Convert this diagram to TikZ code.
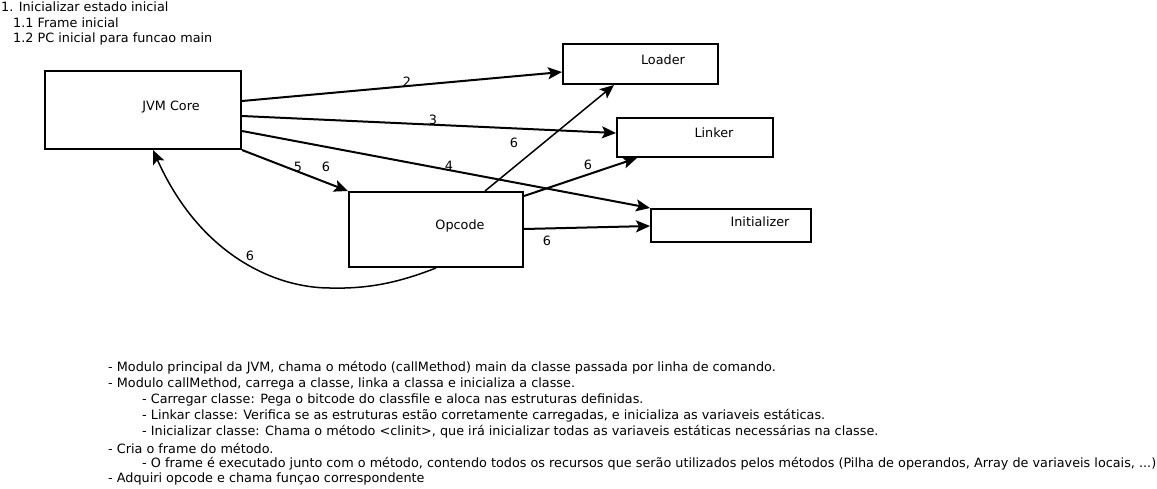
\documentclass[tikz,border=0pt]{standalone}
\usepackage{fontspec}
\setmainfont{DejaVu Sans}
\usetikzlibrary{arrows.meta}
\begin{document}
\begin{tikzpicture}[x=1pt,y=-1pt,
  font=\fontsize{12.8}{16}\selectfont,
  box/.style={draw,line width=2pt,inner sep=0pt},
  lbl/.style={inner sep=0pt},
  txt/.style={inner sep=0pt,anchor=west},
  conn/.style={line width=2pt,-{Stealth[length=14pt,width=12pt,inset=3pt]}},
  thinconn/.style={conn,line width=1.5pt}]
\useasboundingbox (0,0) rectangle (1157,488);
\fill[white] (0,0) rectangle (1157,488);

% boxes
\node[box,minimum width=196pt,minimum height=78pt] (jvm) at (143,110) {};
\node[box,minimum width=155pt,minimum height=40pt] (loader) at (640.5,64) {};
\node[box,minimum width=156pt,minimum height=39pt] (linker) at (695,137.5) {};
\node[box,minimum width=160pt,minimum height=33pt] (init) at (731,225.5) {};
\node[box,minimum width=174pt,minimum height=75pt] (opcode) at (436,229.5) {};

% box texts
\node[lbl] (tjvm) at (171,107) {JVM Core};
\node[lbl] (tloader) at (663,60) {Loader};
\node[lbl] (tlinker) at (714,133) {Linker};
\node[lbl] (tinit) at (760,222) {Initializer};
\node[lbl] (topcode) at (460,226) {Opcode};

% connectors
\draw[conn] ([yshift=9pt]jvm.east) -- ([yshift=-8pt]loader.west);
\draw[conn] ([yshift=-6pt]jvm.east) -- ([yshift=4.5pt]linker.west);
\draw[conn] ([yshift=-21pt]jvm.east) -- (init.north west);
\draw[conn] (jvm.south east) -- (opcode.north west);
\draw[thinconn] ([xshift=49pt]opcode.north) -- ([xshift=-26.5pt]loader.south);
\draw[conn] ([yshift=-5pt]opcode.north east) -- ([xshift=-58pt]linker.south);
\draw[conn] ([yshift=0.5pt]opcode.east) -- ([yshift=-0.5pt]init.west);
\coordinate (mid) at (330,288);
\draw[thinconn] (opcode.south) .. controls (400,282) and (370,289) .. (mid)
  .. controls (275,288) and (200,255) .. ([xshift=10pt]jvm.south);

% connector labels
\node[lbl] (l2) at (407,82) {2};
\node[lbl] (l3) at (433,120) {3};
\node[lbl] (l4) at (449,166) {4};
\node[lbl] (l5) at (298,167) {5};
\node[lbl] (l6a) at (326,167) {6};
\node[lbl] (l6b) at (514,143) {6};
\node[lbl] (l6c) at (588,165) {6};
\node[lbl] (l6d) at (547,241) {6};
\node[lbl] (l6e) at (250,256) {6};

% top-left notes
\node[txt] (n1) at (1,7) {1. Inicializar estado inicial};
\node[txt] (n2) at (13,23) {1.1 Frame inicial};
\node[txt] (n3) at (13,39) {1.2 PC inicial para funcao main};

% bottom notes
\node[txt] (b1) at (108,368) {- Modulo principal da JVM, chama o método (callMethod) main da classe passada por linha de comando.};
\node[txt] (b2) at (108,384) {- Modulo callMethod, carrega a classe, linka a classa e inicializa a classe.};
\node[txt] (b3) at (142,400) {- Carregar classe: Pega o bitcode do classfile e aloca nas estruturas definidas.};
\node[txt] (b4) at (142,416) {- Linkar classe: Verifica se as estruturas estão corretamente carregadas, e inicializa as variaveis estáticas.};
\node[txt] (b5) at (142,432) {- Inicializar classe: Chama o método <clinit>, que irá inicializar todas as variaveis estáticas necessárias na classe.};
\node[txt] (b6) at (108,448) {- Cria o frame do método.};
\node[txt] (b7) at (142,464) {- O frame é executado junto com o método, contendo todos os recursos que serão utilizados pelos métodos (Pilha de operandos, Array de variaveis locais, ...)};
\node[txt] (b8) at (108,479) {- Adquiri opcode e chama funçao correspondente};
\end{tikzpicture}
\end{document}
